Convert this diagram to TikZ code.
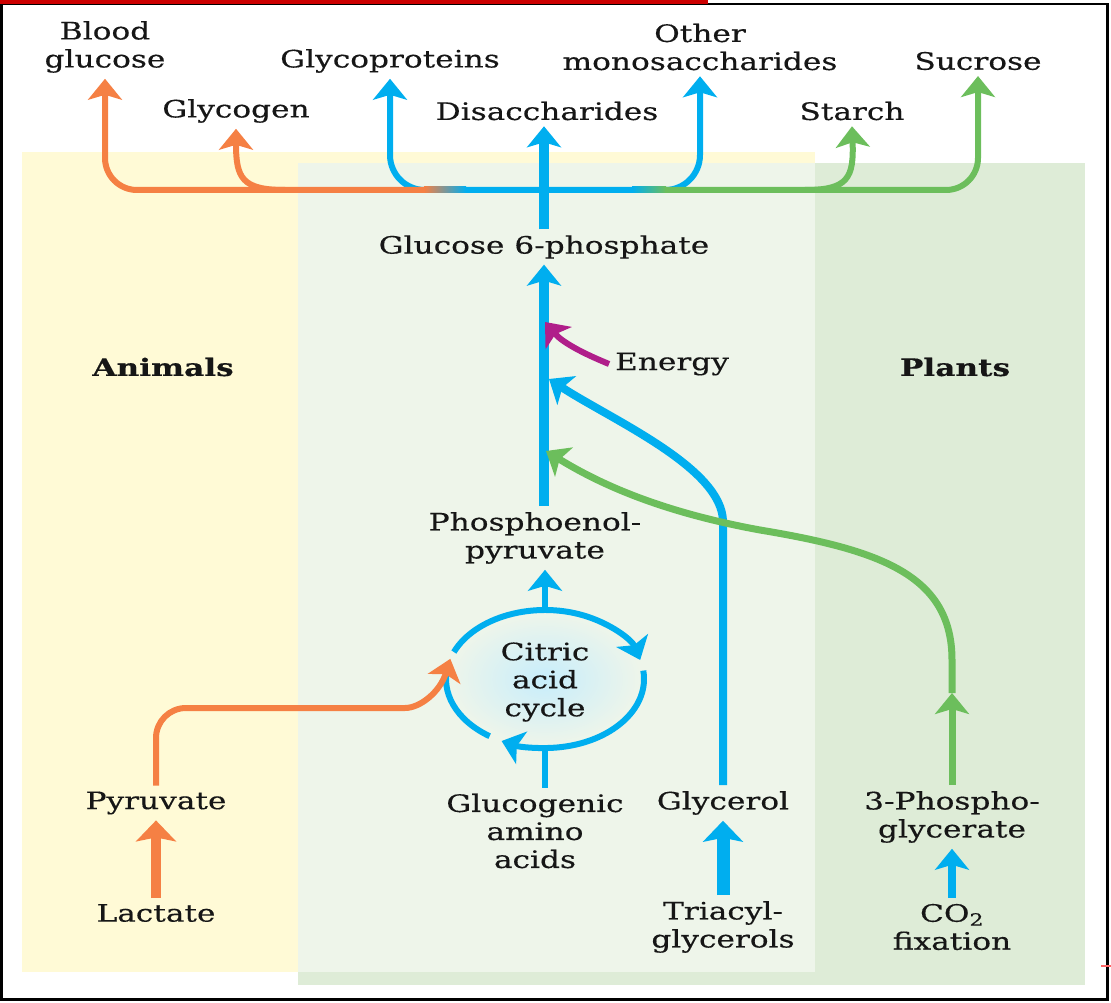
\documentclass[tikz,border=0pt]{standalone}
\usepackage{fontspec}
\setmainfont{DejaVu Serif}[FakeStretch=1.3,FakeBold=0.4]
\usetikzlibrary{arrows.meta,calc}
\definecolor{cOr}{RGB}{245,128,68}
\definecolor{cBl}{RGB}{0,174,239}
\definecolor{cGr}{RGB}{108,190,92}
\definecolor{cMg}{RGB}{176,30,138}
\definecolor{cYel}{RGB}{255,250,214}
\definecolor{cMid}{RGB}{238,245,234}
\definecolor{cPl}{RGB}{222,236,215}
\definecolor{cTxt}{RGB}{22,22,22}
\begin{document}
\begin{tikzpicture}[x=1pt,y=-1pt,
  lbl/.style={font=\fontsize{24}{28}\selectfont, text=cTxt, align=center, inner sep=0pt, outer sep=6pt},
  lblb/.style={lbl, font=\fontsize{24}{28}\selectfont\bfseries},
  Hd/.tip={Stealth[length=21pt,width=34pt,inset=5pt]},
  Hdb/.tip={Stealth[length=21pt,width=40pt,inset=4pt]},
  thin/.style={line width=6pt},
]
\useasboundingbox (0,0) rectangle (1111,1003);
% panels
\fill[cYel] (22,152) rectangle (815,972);
\fill[cPl] (298,163) rectangle (1085,985);
\fill[cMid] (298,163) rectangle (815,972);
% frame
\draw[black, line width=2.5pt] (1.5,4) rectangle (1107.5,999.5);
\fill[red!80!black] (0,0) rectangle (708,4.5);
\draw[red!60, line width=1.2pt] (1101,966) -- (1111,966);

% labels
\node[lbl] (blood) at (105,47) {Blood\\glucose};
\node[lbl] (glycoprot) at (390,61) {Glycoproteins};
\node[lbl] (othermono) at (700,47) {Other\\monosaccharides};
\node[lbl] (sucrose) at (978,61) {Sucrose};
\node[lbl] (glycogen) at (236,111) {Glycogen};
\node[lbl] (disacch) at (547,111) {Disaccharides};
\node[lbl] (starch) at (852,111) {Starch};
\node[lbl] (g6p) at (544,247) {Glucose 6-phosphate};
\node[lblb] (animals) at (163,367) {Animals};
\node[lblb] (plants) at (955,367) {Plants};
\node[lbl] (energy) at (672,364) {Energy};
\node[lbl] (pep) at (535,538) {Phosphoenol-\\pyruvate};
\coordinate (cc) at (545,679);
\shade[inner color=cBl!22, outer color=cMid] (cc) ellipse [x radius=96, y radius=66];
\node[lbl] (cyc) at (545,682) {Citric\\acid\\cycle};
\node[lbl] (pyr) at (156,803) {Pyruvate};
\node[lbl] (gluc) at (535,831) {Glucogenic\\amino\\acids};
\node[lbl] (gly) at (723,803) {Glycerol};
\node[lbl] (pg) at (952,817) {3-Phospho-\\glycerate};
\node[lbl] (lac) at (156,913) {Lactate};
\node[lbl] (tag) at (723,927) {Triacyl-\\glycerols};
\node[lbl] (co2) at (952,927) {CO\textsubscript{2}\\fixation};

% hub coordinates
\coordinate (hub) at (g6p.north |- 0,190);

% top distribution
\draw[cBl, thin, rounded corners=35pt, Hd-Hd] (glycoprot.south) |- (hub) -| (othermono.south);
\shade[left color=cOr, right color=cBl] (424,187) rectangle (466,193);
\shade[left color=cBl, right color=cGr] (632,187) rectangle (666,193);
\draw[cOr, thin, rounded corners=32pt, -Hd] (425,190) -| (blood.south);
\draw[cOr, thin, -Hd] (285,190) .. controls (242,190) and (236,178) .. (glycogen.south);
\draw[cGr, thin, rounded corners=32pt, -Hd] (665,190) -| (sucrose.south);
\draw[cGr, thin, -Hd] (805,190) .. controls (848,190) and (854,178) .. (starch.south);
\draw[cBl, line width=10pt, -Hd] (g6p.north) -- (g6p.north |- disacch.south);

% main vertical
\draw[cBl, line width=10pt, -Hd] (pep.north -| g6p) -- (g6p.south);

% citric acid cycle
\draw[cBl, thin, -Hd] ($(cc)+(203:99 and 69)$) arc[start angle=203, end angle=344, x radius=99, y radius=69];
\draw[cBl, thin, -Hd] ($(cc)+(353:99 and 69)$) arc[start angle=353, end angle=476, x radius=99, y radius=69];
\draw[cBl, thin] ($(cc)+(484:99 and 69)$) arc[start angle=484, end angle=552, x radius=99, y radius=69];
\draw[cBl, thin, -Hd] ($(cc)+(0,-69)$) -- (cc |- pep.south);
\draw[cBl, thin] (gluc.north -| cc) -- ($(cc)+(0,68)$);

% animals side
\draw[cOr, line width=10pt, -Hdb] (lac.north) -- (pyr.south);
\draw[cOr, thin, rounded corners=30pt, -Hd] (pyr.north) |- (375,708)
   .. controls (420,708) and (440,692) .. ($(cc)+(197:99 and 69)$);

% glycerol
\draw[cBl, line width=13pt, -Hdb] (tag.north) -- (gly.south);
\draw[cBl, line width=8pt, -Hd] (gly.north) -- (723,522) .. controls (723,468) and (612,420) .. (549,379);

% plants side
\draw[cBl, line width=8pt, -Hd] (co2.north) -- (pg.south);
\coordinate (gmid) at (952,693);
\draw[cGr, line width=7pt, -Hd] (pg.north) -- (gmid);
\draw[cGr, line width=7pt, -Hd] (gmid) -- (952,660) .. controls (952,575) and (880,550) .. (760,530)
   .. controls (650,510) and (590,478) .. (546,451);

% energy
\draw[cMg, thin, -Hd] (energy.west) .. controls (582,353) and (562,342) .. (545,322);
\end{tikzpicture}
\end{document}
